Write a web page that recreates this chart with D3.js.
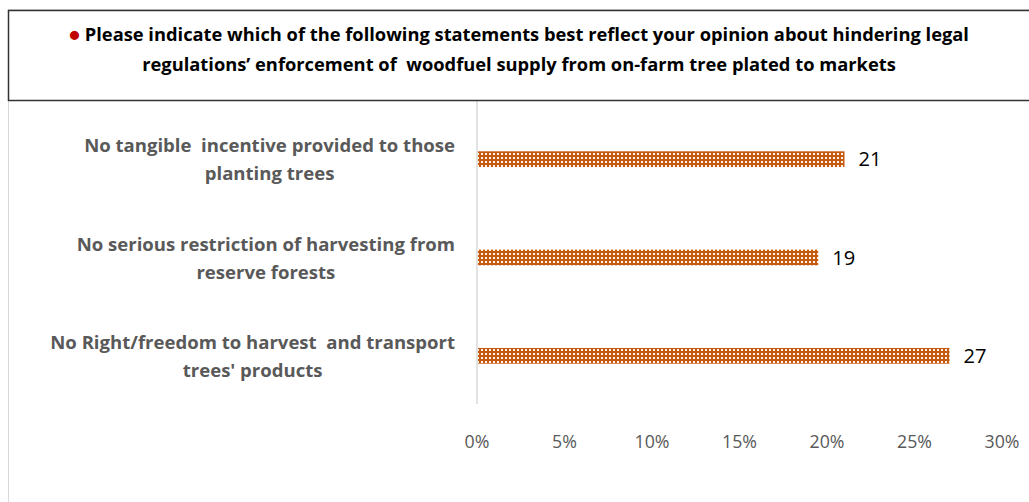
<!doctype html>
<html>
  <head>
    <meta charset="utf-8">
    <title>hindering legal regulations</title>
    <script src="https://d3js.org/d3.v7.min.js"></script>
    <style type="text/css">
      body { margin: 0; background: #fff; }
      text { font-family: "Open Sans", Lato, sans-serif; }
    </style>
  </head>
  <body>
    <svg></svg>
    <script type="text/javascript">
      var w = 1029,
        h = 502;

      // data
      var categories = [
        ["No tangible  incentive provided to those", "planting trees"],
        ["No serious restriction of harvesting from", "reserve forests"],
        ["No Right/freedom to harvest  and transport", "trees' products"]
      ];
      var values = [21, 19.5, 27];
      var valueLabels = ["21", "19", "27"];
      var ticks = [0, 5, 10, 15, 20, 25, 30];
      var titleLines = [
        "Please indicate which of the following statements best reflect your opinion about hindering legal",
        "regulations\u2019 enforcement of  woodfuel supply from on-farm tree plated to markets"
      ];

      var svg = d3.select('svg')
        .attr('width', w)
        .attr('height', h);

      // scale font size of a selection so that one node gets the wanted width
      function fit(sel, node, target) {
        var fs = parseFloat(sel.attr('font-size'));
        var len = node.getComputedTextLength();
        sel.attr('font-size', fs * target / len);
      }

      // bar fill pattern (dotted grid)
      var pat = svg.append('defs').append('pattern')
        .attr('id', 'dots')
        .attr('patternUnits', 'userSpaceOnUse')
        .attr('width', 4)
        .attr('height', 4);
      pat.append('rect').attr('width', 4).attr('height', 4).attr('fill', '#c55a11');
      pat.append('rect').attr('x', 1).attr('y', 1).attr('width', 2).attr('height', 2).attr('fill', '#fdf1e8');

      // outer chart border
      svg.append('rect')
        .attr('x', 8.5).attr('y', 9.5)
        .attr('width', 1100).attr('height', 600)
        .attr('fill', 'none')
        .attr('stroke', '#d9d9d9');

      var xScale = d3.scaleLinear()
        .domain([0, 30])
        .range([477, 1002]);
      var yScale = d3.scaleBand()
        .domain(d3.range(categories.length))
        .range([110, 405])
        .paddingInner(0.84)
        .paddingOuter(0.42);

      // vertical axis line
      svg.append('line')
        .attr('x1', xScale(0)).attr('x2', xScale(0))
        .attr('y1', 100).attr('y2', 404)
        .attr('stroke', '#d9d9d9')
        .attr('stroke-width', 1.5);

      svg.selectAll('rect.bar')
        .data(values)
        .enter()
        .append('rect')
        .attr('class', 'bar')
        .attr('x', xScale(0) + 1)
        .attr('y', function(d, i) { return yScale(i); })
        .attr('width', function(d) { return xScale(d) - xScale(0) - 1; })
        .attr('height', yScale.bandwidth())
        .attr('fill', 'url(#dots)');

      var vals = svg.selectAll('text.val')
        .data(values)
        .enter()
        .append('text')
        .attr('class', 'val')
        .text(function(d, i) { return valueLabels[i]; })
        .attr('x', function(d) { return xScale(d) + 14; })
        .attr('y', function(d, i) { return yScale(i) + yScale.bandwidth() / 2; })
        .attr('dy', '0.35em')
        .attr('font-size', 18)
        .attr('fill', '#000');
      fit(vals, vals.node(), 23);

      // tick labels
      var tk = svg.selectAll('text.tick')
        .data(ticks)
        .enter()
        .append('text')
        .attr('class', 'tick')
        .text(function(d) { return d + '%'; })
        .attr('x', function(d) { return xScale(d); })
        .attr('y', 448)
        .attr('text-anchor', 'middle')
        .attr('font-size', 17)
        .attr('fill', '#595959');
      fit(tk, tk.nodes()[6], 35);

      // category labels: lines centred in a block that is right aligned
      var labelRight = 455;
      var catText = [];
      categories.forEach(function(lines, i) {
        var cy = yScale(i) + yScale.bandwidth() / 2;
        var t = svg.append('g').selectAll('text')
          .data(lines)
          .enter()
          .append('text')
          .text(function(d) { return d; })
          .style('white-space', 'pre')
          .attr('font-size', 16)
          .attr('font-weight', 'bold')
          .attr('fill', '#595959')
          .attr('text-anchor', 'middle')
          .attr('y', function(d, j) { return cy - 7 + j * 28; });
        catText.push(t);
      });
      var allCat = svg.selectAll('g text');
      fit(allCat, catText[2].node(), 405);
      catText.forEach(function(t) {
        var maxW = d3.max(t.nodes(), function(n) { return n.getComputedTextLength(); });
        t.attr('x', labelRight - maxW / 2);
      });

      // title box
      svg.append('rect')
        .attr('x', 8.5).attr('y', 10.5)
        .attr('width', 1100).attr('height', 90)
        .attr('fill', '#fff')
        .attr('stroke', '#333')
        .attr('stroke-width', 1.5);

      var title = svg.append('text')
        .attr('text-anchor', 'middle')
        .attr('font-size', 16)
        .attr('font-weight', 'bold')
        .attr('fill', '#000')
        .style('white-space', 'pre');
      var t1 = title.append('tspan').attr('x', 519).attr('y', 41);
      t1.append('tspan').attr('fill', '#c00000').text('\u25CF ');
      t1.append('tspan').text(titleLines[0]);
      var t2 = title.append('tspan').attr('x', 519).attr('y', 71).text(titleLines[1]);
      var fs = 16 * 754 / t2.node().getComputedTextLength();
      title.attr('font-size', fs);
    </script>
  </body>
</html>
